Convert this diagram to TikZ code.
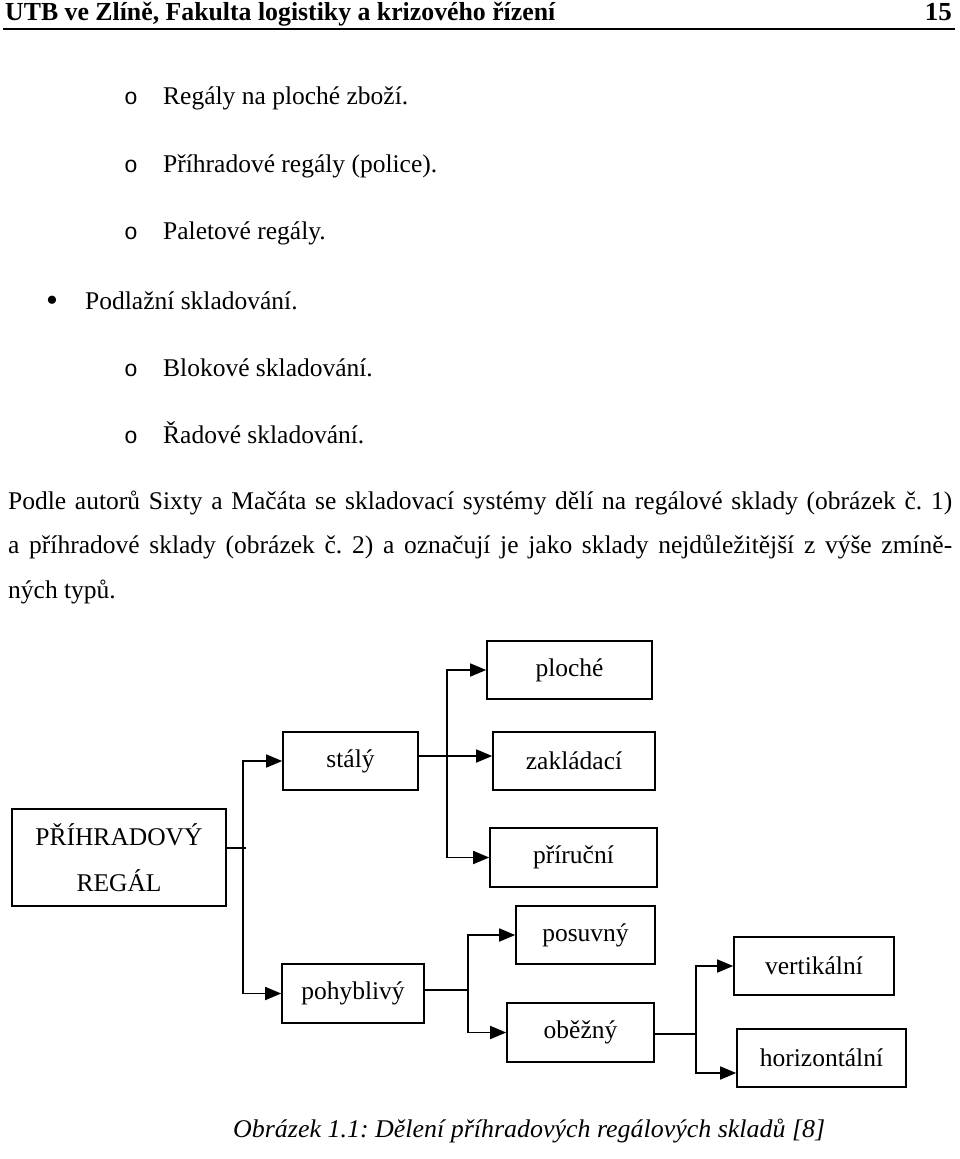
\documentclass[tikz,border=0pt]{standalone}
\usepackage{fontspec}
\usepackage{graphicx}
\setmainfont{Liberation Serif}
\newfontfamily\bulmono{Liberation Mono}
\usetikzlibrary{arrows.meta}
\frenchspacing
\begin{document}
\begin{tikzpicture}[x=1pt,y=-1pt,
  txt/.style={inner sep=0pt, anchor=base west, font=\fontsize{25.5}{30}\selectfont},
  bulo/.style={inner sep=0pt, anchor=base, font=\bulmono\fontsize{23}{28}\selectfont},
  box/.style={draw, line width=1.6pt, inner sep=0pt, minimum height=58pt, font=\fontsize{25.5}{30}\selectfont},
  ln/.style={line width=1.6pt},
  arr/.style={line width=1.6pt, -{Triangle[length=16pt,width=13pt]}}]
\useasboundingbox (0,0) rectangle (960,1159);
% header
\node[inner sep=0pt, anchor=base west, font=\bfseries\fontsize{26}{28}\selectfont] (hdr) at (5,20) {\resizebox{550pt}{\height}{UTB ve Zlíně, Fakulta logistiky a krizového řízení}};
\node[inner sep=0pt, anchor=base east, font=\bfseries\fontsize{26}{28}\selectfont] (pg) at (952,20) {\resizebox{27pt}{\height}{15}};
\draw[line width=2pt] (3,28.5) -- (955,28.5);
% list
\node[bulo] (o1) at (131,104) {o};
\node[txt] (l1) at (163,104) {Regály na ploché zboží.};
\node[bulo] (o2) at (131,172) {o};
\node[txt] (l2) at (163,172) {Příhradové regály (police).};
\node[bulo] (o3) at (131,239) {o};
\node[txt] (l3) at (163,239) {Paletové regály.};
\node[inner sep=0pt, anchor=base, font=\fontsize{34}{36}\selectfont] (d4) at (52,311) {•};
\node[txt] (l4) at (85,309) {Podlažní skladování.};
\node[bulo] (o5) at (131,376) {o};
\node[txt] (l5) at (163,376) {Blokové skladování.};
\node[bulo] (o6) at (131,443) {o};
\node[txt] (l6) at (163,443) {Řadové skladování.};
% paragraph
\node[txt] (p1) at (8,509) {\makebox[944pt][s]{Podle autorů Sixty a Mačáta se skladovací systémy dělí na regálové sklady (obrázek č. 1)}};
\node[txt] (p2) at (8,553) {\makebox[944pt][s]{a příhradové sklady (obrázek č. 2) a označují je jako sklady nejdůležitější z výše zmíně-}};
\node[txt] (p3) at (8,598) {ných typů.};
% boxes
\node[box, minimum width=214pt, minimum height=97pt, align=center, font=\fontsize{25.5}{46}\selectfont] (prihr) at (119,857.5) {PŘÍHRADOVÝ\\REGÁL};
\node[box, minimum width=135pt] (staly) at (350.5,761) {stálý};
\node[box, minimum width=165pt] (ploche) at (569.5,670) {ploché};
\node[box, minimum width=162pt] (zakladaci) at (574,761) {zakládací};
\node[box, minimum width=167pt, minimum height=59pt] (prirucni) at (573.5,857.5) {příruční};
\node[box, minimum width=139pt] (posuvny) at (585.5,935) {posuvný};
\node[box, minimum width=142pt, minimum height=59pt] (pohyblivy) at (353,993.5) {pohyblivý};
\node[box, minimum width=147pt, minimum height=59pt] (obezny) at (580.5,1032.5) {oběžný};
\node[box, minimum width=160pt] (vertikalni) at (814,966) {vertikální};
\node[box, minimum width=169pt] (horizontalni) at (821.5,1058) {horizontální};
% connectors
\coordinate (b1) at (243,848);
\draw[ln] (prihr.east |- b1) -- ([xshift=3pt]b1);
\draw[arr] (b1) |- (staly.west);
\draw[arr] (b1) |- (pohyblivy.west);
\coordinate (b2) at (447,756);
\draw[ln] (staly.east |- b2) -- (b2);
\draw[arr] (b2) -- (zakladaci.west |- b2);
\draw[arr] (b2) |- (ploche.west);
\draw[arr] (b2) |- (prirucni.west);
\coordinate (b3) at (468,990);
\draw[ln] (pohyblivy.east |- b3) -- (b3);
\draw[arr] (b3) |- (posuvny.west);
\draw[arr] (b3) |- (obezny.west);
\coordinate (b4) at (696,1034);
\draw[ln] (obezny.east |- b4) -- (b4);
\draw[arr] (b4) |- (vertikalni.west);
\draw[arr] (b4) |- ([yshift=-15pt]horizontalni.west);
% caption
\node[inner sep=0pt, anchor=base west, font=\itshape\fontsize{25.5}{30}\selectfont] (cap) at (233,1137) {\resizebox{592pt}{\height}{Obrázek 1.1: Dělení příhradových regálových skladů [8]}};
\end{tikzpicture}
\end{document}
